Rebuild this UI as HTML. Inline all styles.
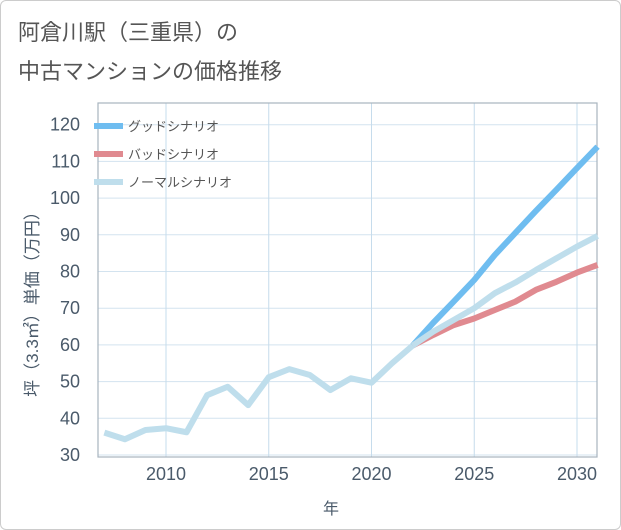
<!DOCTYPE html>
<html><head><meta charset="utf-8">
<style>
body{margin:0;background:#fff;}
#wrap{position:relative;width:619px;height:528px;border:1px solid #ccc;border-radius:6px;background:#fff;font-family:"Liberation Sans","Noto Sans CJK JP",sans-serif;}
</style></head>
<body>
<div id="wrap">
<svg id="chart" width="621" height="530" style="position:absolute;left:-1px;top:-1px">
<text x="18" y="40" font-size="22" fill="#555" font-family="Liberation Sans, Noto Sans CJK JP, sans-serif">阿倉川駅（三重県）の</text>
<text x="18" y="79" font-size="22" fill="#555" font-family="Liberation Sans, Noto Sans CJK JP, sans-serif">中古マンションの価格推移</text>
<g id="grid"></g><g id="axes"></g><g id="series"></g><g id="legend"></g>
<text x="331" y="514" font-size="16" fill="#4a5a6a" text-anchor="middle" font-family="Liberation Sans, Noto Sans CJK JP, sans-serif">年</text>
<text transform="translate(38,300) rotate(-90)" font-size="17" fill="#4a5a6a" text-anchor="middle" font-family="Liberation Sans, Noto Sans CJK JP, sans-serif">坪（3.3㎡）単価（万円）</text>
</svg>
</div>
<script>
const years=[2007,2008,2009,2010,2011,2012,2013,2014,2015,2016,2017,2018,2019,2020,2021,2022];
const history=[36.1,34.3,36.8,37.3,36.2,46.3,48.6,43.6,51.2,53.4,51.8,47.7,50.9,49.7,55.0,59.8];
const futureYears=[2022,2023,2024,2025,2026,2027,2028,2029,2030,2031];
const good=[59.8,66.0,71.8,77.7,84.5,90.5,96.5,102.3,108.2,114.0];
const bad=[59.8,62.7,65.4,67.2,69.5,71.8,75.0,77.2,79.7,81.8];
const normal=[59.8,63.6,66.8,70.0,74.1,77.0,80.4,83.6,86.8,89.7];
const yTicks=[30,40,50,60,70,80,90,100,110,120];
const xTicks=[2010,2015,2020,2025,2030];
const legendLabels=["グッドシナリオ","バッドシナリオ","ノーマルシナリオ"];
const L=98,R=597,T=103,B=457;
const X=v=>166+(v-2010)*20.55;
const Y=v=>455-(v-30)*3.67;
const NS="http://www.w3.org/2000/svg";
function mk(tag,attrs,parent){const e=document.createElementNS(NS,tag);for(const k in attrs)e.setAttribute(k,attrs[k]);document.getElementById(parent).appendChild(e);return e;}
const bg=mk('rect',{x:L,y:T,width:R-L,height:B-T,fill:'#fff',stroke:'none'},'grid');


for(const t of yTicks){
 const l=mk('line',{x1:L,x2:R,y1:Y(t),y2:Y(t),stroke:'#d3e3ef','stroke-width':1},'grid');
 
 
 const tx=mk('text',{x:80,y:Y(t)+6,'font-size':18,fill:'#4a5a6a','text-anchor':'end'},'axes');
 
 
 tx.textContent=t;
}
for(const t of xTicks){
 const l=mk('line',{x1:X(t),x2:X(t),y1:T,y2:B,stroke:'#c6dcec','stroke-width':1},'grid');
 
 
 const tx=mk('text',{x:X(t),y:480,'font-size':18,fill:'#4a5a6a','text-anchor':'middle'},'axes');
 
 
 tx.textContent=t;
}
const ax=mk('rect',{x:L,y:T,width:R-L,height:B-T,stroke:'#a8b4bf',fill:'none','stroke-width':1.2},'axes');


function line(xs,vs,color,name){
 const p=mk('polyline',{points:xs.map((x,i)=>X(x)+','+Y(vs[i])).join(' '),fill:'none',stroke:color,'stroke-width':6,'stroke-linejoin':'round'},'series');
 
 
}
line(futureYears,good,'#6fbdf0','good-scenario-line');
line(futureYears,bad,'#e08a90','bad-scenario-line');
line(futureYears,normal,'#bfdeec','normal-scenario-line');
line(years,history,'#bfdeec','historical-line');
const cols=['#6fbdf0','#e08a90','#bfdeec'];
legendLabels.forEach((lab,i)=>{
 const y=126+i*28;
 const l=mk('line',{x1:94,x2:123,y1:y,y2:y,stroke:cols[i],'stroke-width':6},'legend');
 
 
 const t=mk('text',{x:128,y:y+5,'font-size':13,fill:'#555'},'legend');
 
 
 t.textContent=lab;
});
</script>
</body></html>
